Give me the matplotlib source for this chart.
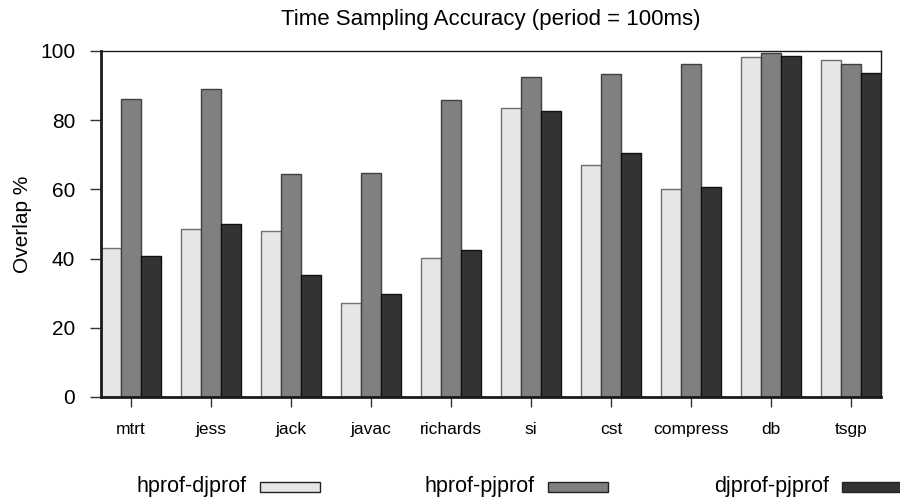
import numpy as np
import matplotlib
matplotlib.use("Agg")
import matplotlib.pyplot as plt
from matplotlib.patches import Rectangle

plt.rcParams['font.family'] = ['Liberation Sans', 'DejaVu Sans']

# benchmarks and overlap values (%)
benchmarks = ["mtrt", "jess", "jack", "javac", "richards", "si", "cst", "compress", "db", "tsgp"]
hprof_djprof = [43.0, 48.5, 48.1, 27.1, 40.2, 83.6, 67.0, 60.2, 98.3, 97.3]
hprof_pjprof = [86.0, 88.9, 64.5, 64.6, 85.8, 92.6, 93.3, 96.2, 99.4, 96.2]
djprof_pjprof = [40.7, 50.1, 35.2, 29.7, 42.4, 82.6, 70.4, 60.7, 98.6, 93.6]

series_names = ["hprof-djprof", "hprof-pjprof", "djprof-pjprof"]
fills = ["#e6e6e6", "#808080", "#333333"]
edges = ["#707070", "#404040", "#111111"]

W, H = 900, 501
fig = plt.figure(figsize=(W / 100, H / 100), dpi=100)
ax = fig.add_axes([101 / W, 1 - 397 / H, 780 / W, 346 / H])

x = np.arange(len(benchmarks))
w = 0.25
for i, vals in enumerate([hprof_djprof, hprof_pjprof, djprof_pjprof]):
    ax.bar(x + (i - 1) * w, vals, w, color=fills[i], edgecolor=edges[i], linewidth=1.0, zorder=2)

ax.set_xlim(-0.375, len(benchmarks) - 1 + 0.375)
ax.set_ylim(0, 100)
ax.set_yticks([0, 20, 40, 60, 80, 100])
ax.set_xticks(x)
ax.set_xticklabels(benchmarks, fontsize=12.5)
ax.tick_params(axis='y', labelsize=15, length=8, width=1, color='#333333', pad=10.5)
ax.tick_params(axis='x', length=7, width=1, color='#333333', pad=11)
ax.set_ylabel("Overlap %", fontsize=15, labelpad=6)
ax.set_title("Time Sampling Accuracy (period = 100ms)", fontsize=16, pad=19)

for s in ['left', 'bottom']:
    ax.spines[s].set_linewidth(2)
    ax.spines[s].set_color('#1a1a1a')
for s in ['top', 'right']:
    ax.spines[s].set_linewidth(1)
    ax.spines[s].set_color('#1a1a1a')

# legend: label text followed by a swatch (the last one runs off the edge)
label_left = [137, 425, 714]
renderer = fig.canvas.get_renderer()
for i, name in enumerate(series_names):
    t = fig.text(label_left[i] / W, 1 - 492 / H, name, ha='left', va='baseline', fontsize=15.5)
    bb = t.get_window_extent(renderer=renderer)
    x0 = bb.x1 + 13
    fig.patches.append(Rectangle((x0 / W, 1 - 492 / H), 60 / W, 10 / H,
                                 transform=fig.transFigure, facecolor=fills[i],
                                 edgecolor='#222222', linewidth=1.0))

fig.savefig("out.png", dpi=100)
